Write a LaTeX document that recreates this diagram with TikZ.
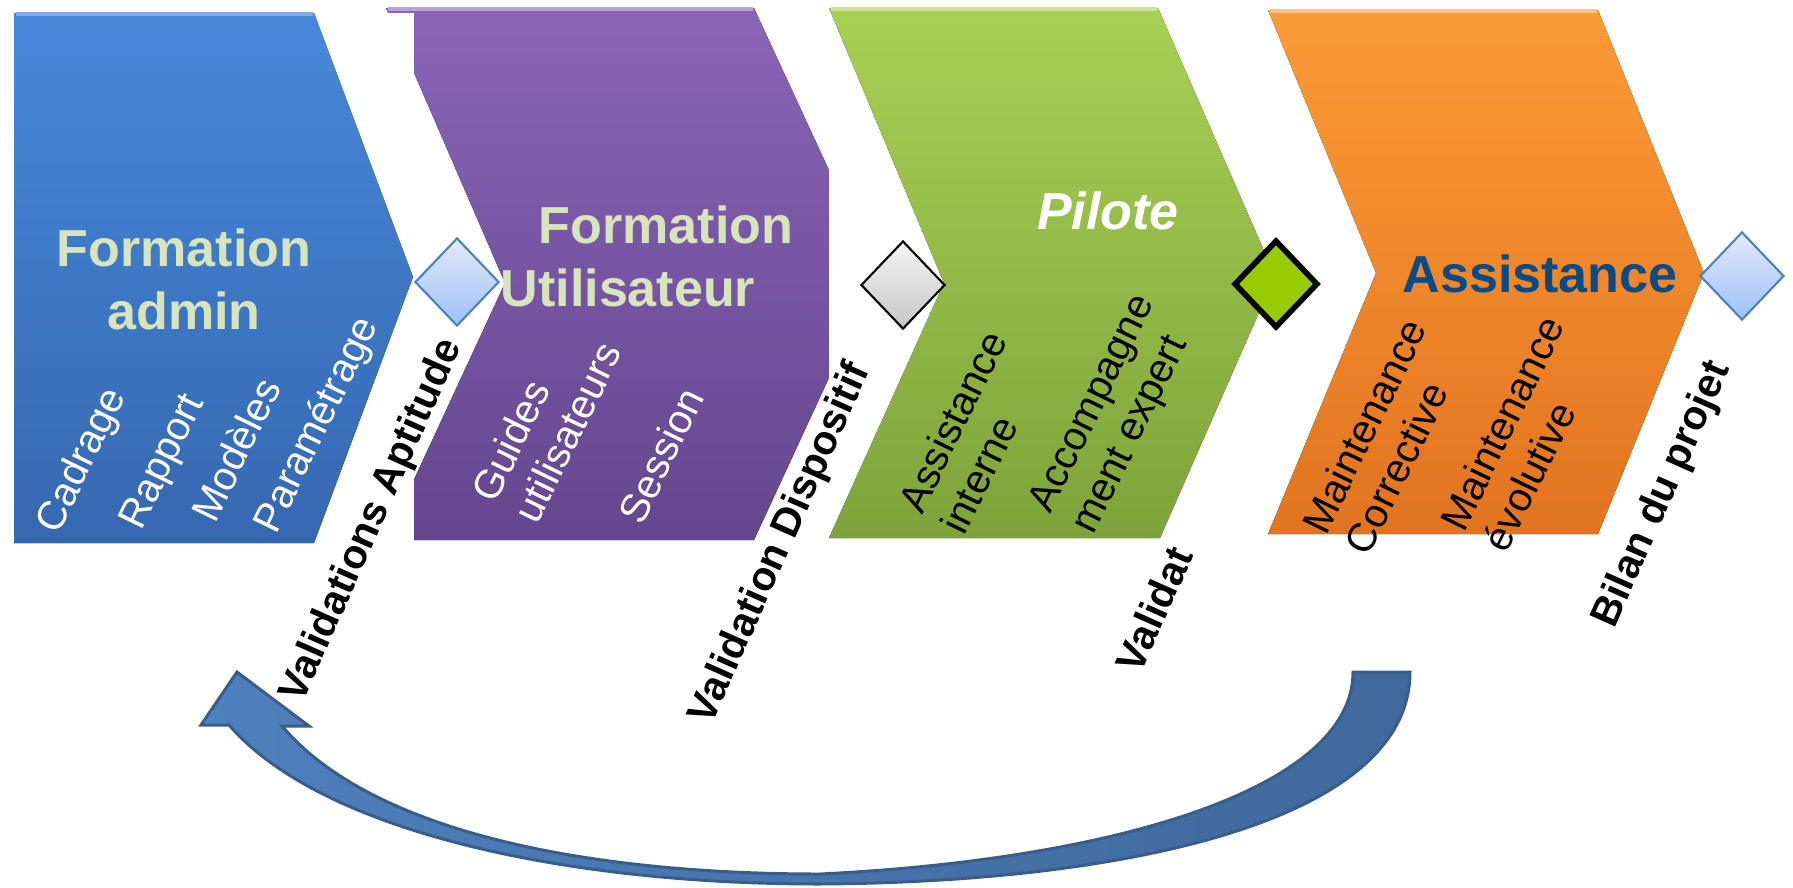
\documentclass[tikz,border=0pt]{standalone}
\usepackage{fontspec}
\setmainfont{Liberation Sans}
\usetikzlibrary{shapes.geometric}

\tikzset{
    title text/.style={font=\bfseries\fontsize{14.8}{17.9}\selectfont, inner sep=0pt},
    task text/.style={font=\fontsize{11.5}{13.5}\selectfont, inner sep=0pt, rotate=64, align=left},
    milestone text/.style={font=\bfseries\fontsize{11.6}{14}\selectfont, inner sep=0pt, anchor=base west, rotate=66},
    milestone/.style={diamond, inner sep=0pt, minimum width=0.84cm, minimum height=0.88cm},
    bevel/.style={line width=0.04cm}
}

\begin{document}
\begin{tikzpicture}[x=0.01cm,y=-0.01cm]
  % Colors
    \definecolor{bluetop}{HTML}{4688DA}
    \definecolor{bluebot}{HTML}{3668B0}
    \definecolor{purpletop}{HTML}{8A64B8}
    \definecolor{purplebot}{HTML}{64468E}
    \definecolor{greentop}{HTML}{A8D055}
    \definecolor{greenbot}{HTML}{7EA33A}
    \definecolor{orangetop}{HTML}{FB9A38}
    \definecolor{orangebot}{HTML}{E2741F}
    \definecolor{titlegreen}{HTML}{D8E4BC}
    \definecolor{assistblue}{HTML}{0A4A85}
    \definecolor{arrowleft}{HTML}{4E80BD}
    \definecolor{arrowright}{HTML}{40689B}
    \definecolor{arrowline}{HTML}{385D8A}
    \definecolor{msline}{HTML}{4F81BD}
    \definecolor{mstop}{HTML}{E2EAFB}
    \definecolor{msbot}{HTML}{9EC1F5}
    \definecolor{pilotgreen}{HTML}{99CC00}

  % The graphic
    \useasboundingbox (0,0) rectangle (1793,887);

  % chevrons
    \fill[top color=purpletop,bottom color=purplebot] (386,8) -- (754,8) -- (877,274)
      -- (754,540) -- (386,540) -- (505,283) -- cycle;
    \draw[bevel,purpletop!60!white] (388,9) -- (753,9);
    \fill[white] (380,13) rectangle (414,545);
    \fill[top color=bluetop,bottom color=bluebot] (14,13) -- (314,13) -- (413,277)
      -- (314,543) -- (14,543) -- cycle;
    \draw[bevel,bluetop!70!white] (16,14) -- (313,14);
    \fill[white] (829,8) rectangle (900,545);
    \fill[top color=greentop,bottom color=greenbot] (829,8) -- (1158,8) -- (1275,276)
      -- (1160,538) -- (829,538) -- (944,283) -- cycle;
    \draw[bevel,greentop!60!white] (831,9) -- (1157,9);
    \fill[top color=orangetop,bottom color=orangebot] (1268,10) -- (1598,10) -- (1704,273)
      -- (1598,534) -- (1268,534) -- (1376,273) -- cycle;
    \draw[bevel,orangetop!60!white] (1270,11) -- (1597,11);

  % milestones
    \node[milestone, draw=msline, line width=0.6pt, top color=mstop, bottom color=msbot] (m1) at (457,282) {};
    \node[milestone, draw=black, line width=0.6pt, top color=gray!8, bottom color=gray!45] (m2) at (903,285) {};
    \node[milestone, draw=black, line width=1.6pt, fill=pilotgreen] (m3) at (1276,284) {};
    \node[milestone, draw=msline, line width=0.6pt, top color=mstop, bottom color=msbot] (m4) at (1742,276) {};

  % titles
    \node[title text, text=titlegreen, align=center] (admin) at (184,279) {Formation\\admin};
    \node[title text, text=titlegreen, align=left, anchor=north west] (user) at (500,205)
      {\hspace*{0.38cm}Formation\\Utilisateur};
    \node[title text, text=white, anchor=base] (pilote) at (1108,229) {\itshape Pilote};
    \node[title text, text=assistblue, anchor=base] (assist) at (1540,292) {Assistance};

  % tasks
    \foreach \n/\px/\py/\txt in {cadrage/58/536/Cadrage, rapport/141/532/Rapport,
        modeles/215/525/Modèles, param/276/536/Paramétrage, session/642/527/Session}
      \node[task text, text=white, anchor=base west] (\n) at (\px,\py) {\txt};
    \node[task text, text=white, anchor=north west] (guides) at (468,492) {Guides\\utilisateurs};
    \node[task text, anchor=north west] (interne) at (895,503) {Assistance\\interne};
    \node[task text, anchor=north west] (expert) at (1025,503) {Accompagne\\ment expert};
    \node[task text, anchor=north west] (corrective) at (1299,524) {Maintenance\\Corrective};
    \node[task text, anchor=north west] (evolutive) at (1437,521) {Maintenance\\évolutive};

  % validations
    \foreach \n/\px/\py/\txt in {va/302/705/Validations Aptitude,
        vd/711/727/Validation Dispositif, vp/1140/676/Validat,
        bilan/1614/630/Bilan du projet}
      \node[milestone text] (\n) at (\px,\py) {\txt};

  % back arrow
    \filldraw[draw=arrowline, line width=0.85pt, left color=arrowleft, right color=arrowright]
      (1353,672) -- (1410,672)
      .. controls (1410,820) and (1130,882) .. (820,884)
      .. controls (560,884) and (320,830) .. (229,725)
      -- (201,725) -- (237,672) -- (309,726) -- (282,726)
      .. controls (370,830) and (580,874) .. (820,874)
      .. controls (1110,860) and (1353,790) .. (1353,672) -- cycle;
\end{tikzpicture}
\end{document}
